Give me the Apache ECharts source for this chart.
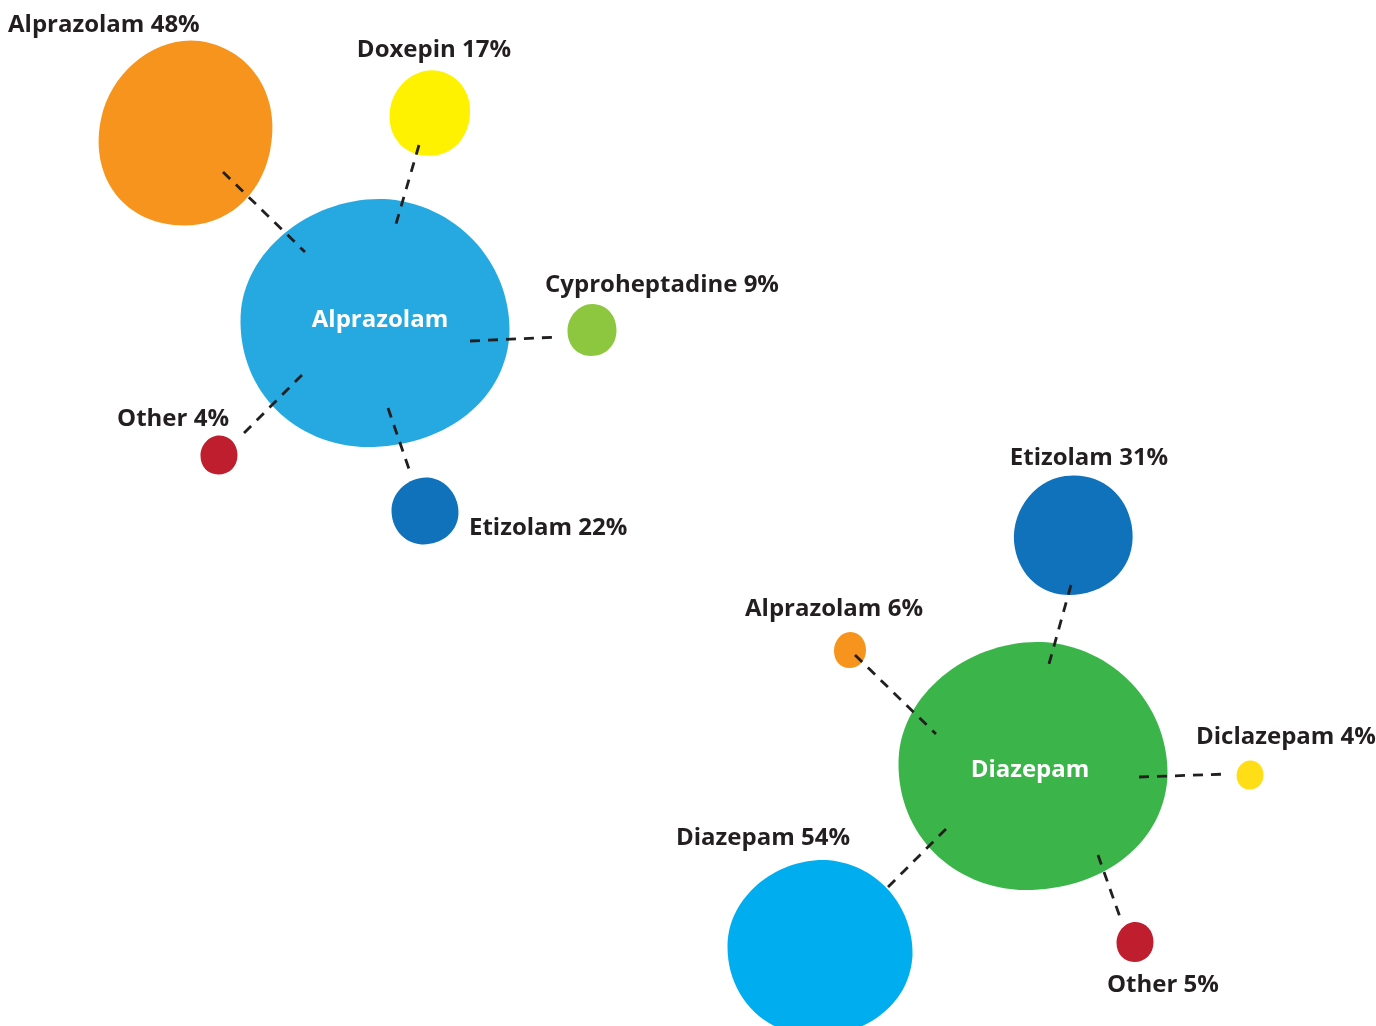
<!DOCTYPE html>
<html>
<head>
<meta charset="utf-8">
<script src="https://cdn.jsdelivr.net/npm/echarts@6/dist/echarts.min.js"></script>
<style>
html,body{margin:0;padding:0;background:#fff;}
#c{width:1376px;height:1026px;}
</style>
</head>
<body>
<div id="c"></div>
<script>
// ---- DATA ----
const hubs = ['Alprazolam', 'Diazepam'];
const group1Names = ['Alprazolam', 'Doxepin', 'Cyproheptadine', 'Other', 'Etizolam'];
const group1Shares = [48, 17, 9, 4, 22];
const group2Names = ['Etizolam', 'Alprazolam', 'Diclazepam', 'Diazepam', 'Other'];
const group2Shares = [31, 6, 4, 54, 5];

// ---- LAYOUT (positions / sizes / styles, not data) ----
// organic blob outline (scaled to each bubble's width/height)
const BLOB = 'path://M52,0 C80,1 100,22 100,50 C100,80 78,100 48,100 C20,100 0,80 0,52 C0,24 24,-1 52,0 Z';
const BLOB2 = 'path://M55,0 C82,3 100,28 99,55 C97,84 72,101 45,100 C18,98 0,75 1,47 C2,20 28,-2 55,0 Z';
const hubLayout = [
  {x: 375, y: 323, w: 269, h: 248, rot: 0, color: '#26a9e0', lx: 380, ly: 320, sym: BLOB2},
  {x: 1033, y: 766, w: 269, h: 248, rot: 0, color: '#3bb54a', lx: 1030, ly: 770, sym: BLOB2}
];
const group1Layout = [
  {x: 186, y: 133, w: 172, h: 186, rot: -12, color: '#f7941d', lx: 8, ly: 25, align: 'left',
   seg: [[223, 172], [305, 252]], sym: BLOB},
  {x: 430, y: 113, w: 80, h: 86, rot: -10, color: '#fff200', lx: 434, ly: 50, align: 'center',
   seg: [[419, 145], [396, 224]], sym: BLOB},
  {x: 592, y: 330, w: 49, h: 52, rot: 0, color: '#8dc63f', lx: 545, ly: 285, align: 'left',
   seg: [[470, 341], [558, 337]], sym: BLOB},
  {x: 219, y: 455, w: 37, h: 39, rot: 0, color: '#be1e2d', lx: 229, ly: 419, align: 'right',
   seg: [[302, 375], [240, 437]], sym: BLOB},
  {x: 425, y: 511, w: 67, h: 67, rot: 0, color: '#1072ba', lx: 469, ly: 528, align: 'left',
   seg: [[388, 408], [410, 472]], sym: BLOB2}
];
const group2Layout = [
  {x: 1073, y: 535, w: 119, h: 119, rot: 10, color: '#1072ba', lx: 1089, ly: 458, align: 'center',
   seg: [[1071, 585], [1049, 664]], sym: BLOB},
  {x: 850, y: 650, w: 32, h: 36, rot: 0, color: '#f7941d', lx: 745, ly: 609, align: 'left',
   seg: [[855, 655], [936, 734]], sym: BLOB},
  {x: 1250, y: 775, w: 27, h: 29, rot: 0, color: '#ffde17', lx: 1196, ly: 737, align: 'left',
   seg: [[1139, 777], [1228, 774]], sym: BLOB},
  {x: 820, y: 948, w: 185, h: 176, rot: 0, color: '#00aeef', lx: 676, ly: 838, align: 'left',
   seg: [[946, 829], [883, 892]], sym: BLOB2},
  {x: 1135, y: 942, w: 37, h: 40, rot: 0, color: '#be1e2d', lx: 1107, ly: 985, align: 'left',
   seg: [[1098, 855], [1121, 920]], sym: BLOB}
];

const FONT = '"Open Sans", sans-serif';
const TEXT = '#231f20';

const bubbleData = [];
const labelData = [];
const lineData = [];

hubs.forEach((h, i) => {
  const L = hubLayout[i];
  bubbleData.push({value: [L.x, L.y], symbol: L.sym, symbolSize: [L.w, L.h], symbolRotate: L.rot,
    itemStyle: {color: L.color, opacity: 1}});
  labelData.push({value: [L.lx, L.ly], name: h,
    label: {color: '#ffffff', align: 'center'}});
});

function addGroup(names, shares, layout) {
  names.forEach((n, i) => {
    const L = layout[i];
    bubbleData.push({value: [L.x, L.y], symbol: L.sym, symbolSize: [L.w, L.h], symbolRotate: L.rot,
      itemStyle: {color: L.color, opacity: 1}});
    labelData.push({value: [L.lx, L.ly], name: n + ' ' + shares[i] + '%',
      label: {color: TEXT, align: L.align}});
    lineData.push({coords: L.seg});
  });
}
addGroup(group1Names, group1Shares, group1Layout);
addGroup(group2Names, group2Shares, group2Layout);

const chart = echarts.init(document.getElementById('c'), null, {renderer: 'canvas'});
chart.setOption({
  animation: false,
  backgroundColor: '#ffffff',
  grid: {left: 0, right: 0, top: 0, bottom: 0},
  xAxis: {type: 'value', min: 0, max: 1376, show: false},
  yAxis: {type: 'value', min: 0, max: 1026, inverse: true, show: false},
  series: [
    {
      type: 'scatter', z: 1, data: bubbleData, symbolKeepAspect: false,
      itemStyle: {opacity: 1},
      emphasis: {disabled: true}, silent: true
    },
    {
      type: 'lines', coordinateSystem: 'cartesian2d', z: 2, polyline: false,
      data: lineData, silent: true,
      lineStyle: {color: '#231f20', width: 2.8, type: [10, 8], opacity: 1}
    },
    {
      type: 'scatter', z: 3, data: labelData, symbolSize: 0, silent: true,
      itemStyle: {opacity: 1},
      label: {
        show: true, position: 'inside', formatter: '{b}',
        fontFamily: FONT, fontWeight: 'bold', fontSize: 24, letterSpacing: -0.7,
        verticalAlign: 'middle'
      }
    }
  ]
});
</script>
</body>
</html>
